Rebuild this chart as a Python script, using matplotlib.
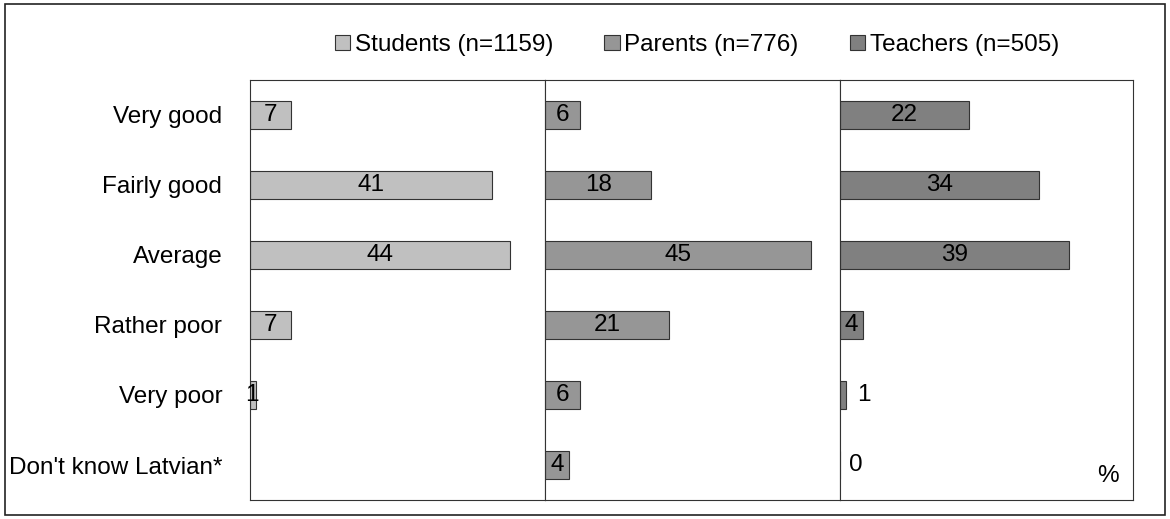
import numpy as np
import matplotlib
matplotlib.use("Agg")
import matplotlib.pyplot as plt
from matplotlib.patches import Patch, Rectangle

plt.rcParams['font.family'] = ['Liberation Sans', 'DejaVu Sans']

categories = ["Very good", "Fairly good", "Average", "Rather poor", "Very poor", "Don't know Latvian*"]
groups = ["Students (n=1159)", "Parents (n=776)", "Teachers (n=505)"]
students = [7, 41, 44, 7, 1, None]
parents = [6, 18, 45, 21, 6, 4]
teachers = [22, 34, 39, 4, 1, 0]
colors = ["#c0c0c0", "#969696", "#808080"]

series = [students, parents, teachers]
fs = 17.5

fig = plt.figure(figsize=(11.7, 5.19), dpi=100)
fig.patches.append(Rectangle((5 / 1170, 4 / 519), 1160 / 1170, 511 / 519, transform=fig.transFigure,
                             fill=False, edgecolor="#222222", linewidth=1.2))

y = np.arange(len(categories))
lefts = [250, 545, 840]
widths = [295, 295, 293]
axes = []
for i, vals in enumerate(series):
    ax = fig.add_axes([lefts[i] / 1170, 19 / 519, widths[i] / 1170, 420 / 519])
    axes.append(ax)
    for j, v in enumerate(vals):
        if v is None:
            continue
        ax.barh(y[j], v, height=0.4, color=colors[i], edgecolor="#333333", linewidth=0.8)
        if v <= 1 and i == 2:
            ax.text(v + 3.0 if v == 1 else 2.7, y[j], str(v), ha="center", va="center", fontsize=fs)
        else:
            ax.text(v / 2 if v > 1 else 0.4, y[j], str(v), ha="center", va="center", fontsize=fs)
    ax.set_xlim(0, 50)
    ax.set_ylim(len(categories) - 0.5, -0.5)
    ax.set_xticks([])
    for s in ax.spines.values():
        s.set_color("#333333")
        s.set_linewidth(0.8)
    if i == 0:
        ax.set_yticks(y)
        ax.set_yticklabels(categories, fontsize=fs)
        ax.tick_params(axis="y", length=0, pad=20)
    else:
        ax.set_yticks([])

axes[2].text(45.8, 5.15, "%", ha="center", va="center", fontsize=fs)

handles = [Patch(facecolor=c, edgecolor="#333333", linewidth=0.8) for c in colors]
fig.legend(handles, groups, loc="center", bbox_to_anchor=(697 / 1170, 1 - 45 / 519), ncol=3,
           frameon=False, fontsize=fs, handlelength=0.62, handleheight=0.62, handletextpad=0.2,
           columnspacing=2.1)

fig.savefig("out.png", dpi=100)
